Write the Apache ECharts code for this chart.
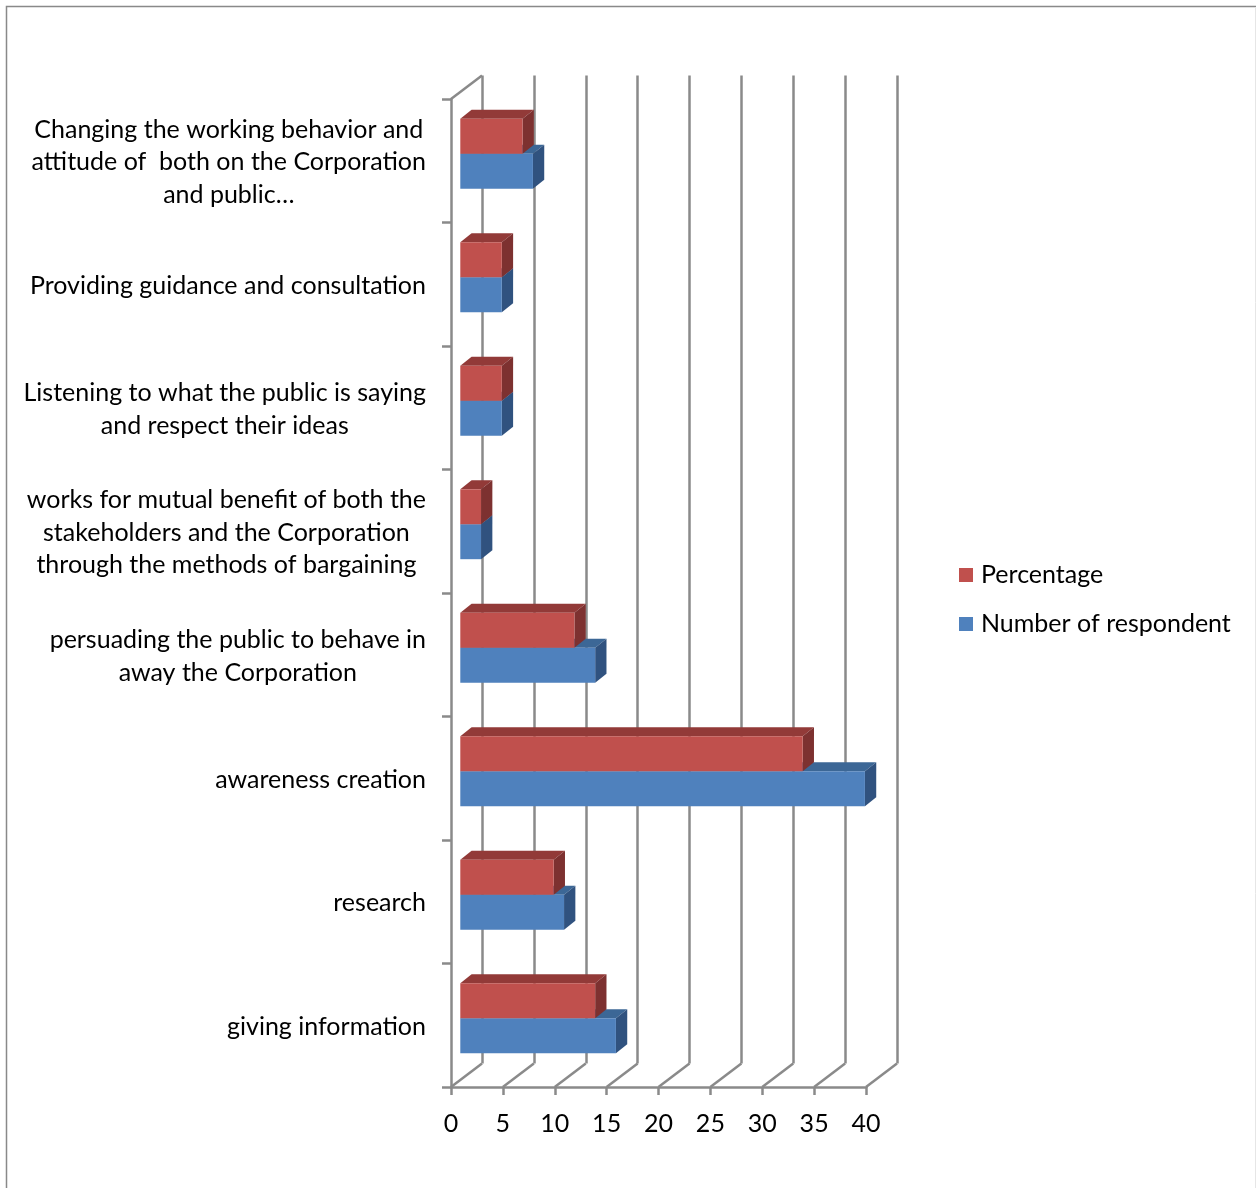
<!DOCTYPE html>
<html><head><meta charset="utf-8">
<script src="https://cdn.jsdelivr.net/npm/echarts@6.0.0/dist/echarts.min.js"></script>
<style>html,body{margin:0;padding:0;background:#fff}#c{width:1256px;height:1188px}</style>
</head><body><div id="c"></div>
<script>
// Categories bottom -> top (ECharts category axis order)
const categories = [
  'giving information',
  'research',
  'awareness creation',
  'persuading the public to behave in\naway the Corporation',
  'works for mutual benefit of both the\nstakeholders and the Corporation\nthrough the methods of bargaining',
  'Listening to what the public is saying\nand respect their ideas',
  'Providing guidance and consultation',
  'Changing the working behavior and\nattitude of  both on the Corporation\nand public\u2026'
];
const numberOfRespondent = [15, 10, 39, 13, 2, 4, 4, 7];
const percentage = [13, 9, 33, 11, 2, 4, 4, 6];
const xTicks = [0, 5, 10, 15, 20, 25, 30, 35, 40];
const seriesNames = ['Percentage', 'Number of respondent'];

const FONT = 'Lato';
const FS = 25;
const GRID_COLOR = '#8a8a8a';
const GW = 2.5;
const BOX = [31, -23.5];      // depth of the 3D box
const OFF = [9.3, -7];        // bar front plane offset
const DEPTH = [11.3, -9];     // bar depth
const RED = {front: '#C0504D', top: '#923a38', side: '#7d3130'};
const BLUE = {front: '#4F81BD', top: '#3c6796', side: '#30527f'};

function barRenderer(upper, col) {
  return function (params, api) {
    const v = api.value(0), c = api.value(1);
    const o = api.coord([0, c]);
    const e = api.coord([v, c]);
    const band = api.size([0, 1])[1];
    const h = band * 0.283;
    const x0 = o[0] + OFF[0], x1 = e[0] + OFF[0];
    const yc = o[1] + OFF[1];
    const y0 = upper ? yc - h : yc;
    const y1 = y0 + h;
    const dx = DEPTH[0], dy = DEPTH[1];
    return {
      type: 'group',
      children: [
        {type: 'polygon', shape: {points: [[x0, y0], [x0 + dx, y0 + dy], [x1 + dx, y0 + dy], [x1, y0]]}, style: {fill: col.top}},
        {type: 'polygon', shape: {points: [[x1, y0], [x1 + dx, y0 + dy], [x1 + dx, y1 + dy], [x1, y1]]}, style: {fill: col.side}},
        {type: 'rect', shape: {x: x0, y: y0, width: x1 - x0, height: h}, style: {fill: col.front}}
      ]
    };
  };
}

const chart = echarts.init(document.getElementById('c'), null, {renderer: 'canvas'});
const option = {
  animation: false,
  backgroundColor: '#fff',
  textStyle: {fontFamily: FONT},
  graphic: [
    {type: 'polyline', shape: {points: [[6.5, 1200], [6.5, 6.5], [1256, 6.5]]}, style: {stroke: '#898989', lineWidth: 1.5, fill: null}, silent: true},
    {type: 'line', shape: {x1: 1255.5, y1: 7, x2: 1255.5, y2: 1200}, style: {stroke: '#e6e6e6', lineWidth: 1}, silent: true}
  ],
  legend: {
    orient: 'vertical',
    left: 959, top: 561,
    itemWidth: 14, itemHeight: 14, itemGap: 21,
    icon: 'rect',
    padding: 0,
    data: seriesNames,
    textStyle: {fontFamily: FONT, fontSize: FS, lineHeight: 28, color: '#000', padding: [0, 0, 0, 3]}
  },
  grid: [
    {left: 451, top: 99, width: 415, height: 988},
    {left: 482, top: 75.5, width: 415, height: 988}
  ],
  xAxis: [
    {
      gridIndex: 0, type: 'value', min: 0, max: 40, interval: 5,
      axisLine: {show: true, lineStyle: {color: GRID_COLOR, width: GW}},
      axisTick: {show: true, length: 8, lineStyle: {color: GRID_COLOR, width: GW}},
      splitLine: {show: false},
      axisLabel: {fontFamily: FONT, fontSize: FS, color: '#000', margin: 24,
        formatter: v => xTicks.indexOf(v) >= 0 ? String(v) : ''}
    },
    {
      gridIndex: 1, type: 'value', min: 0, max: 40, interval: 5,
      axisLine: {show: false}, axisTick: {show: false}, axisLabel: {show: false},
      splitLine: {show: true, showMinLine: true, showMaxLine: true, lineStyle: {color: GRID_COLOR, width: GW}}
    }
  ],
  yAxis: [
    {
      gridIndex: 0, type: 'category', data: categories, boundaryGap: true,
      axisLine: {show: true, lineStyle: {color: GRID_COLOR, width: GW}},
      axisTick: {show: true, length: 9, lineStyle: {color: GRID_COLOR, width: GW}},
      axisLabel: {
        margin: 25, interval: 0,
        formatter: v => v.split('\n').map(l => '{c|' + l + '}').join('\n'),
        rich: {c: {align: 'center', fontFamily: FONT, fontSize: FS, lineHeight: 32.5, color: '#000', padding: [3, 0, 0, 0]}}
      }
    },
    {
      gridIndex: 1, type: 'category', data: categories, show: false
    }
  ],
  series: [
    {
      name: 'floor', type: 'custom', xAxisIndex: 0, yAxisIndex: 0, silent: true, clip: false,
      data: xTicks.map(v => [v, 0]),
      renderItem: function (params, api) {
        const cs = params.coordSys;
        const x = api.coord([api.value(0), 0])[0];
        const yb = cs.y + cs.height;
        const st = {stroke: GRID_COLOR, lineWidth: GW};
        const ch = [{type: 'line', shape: {x1: x, y1: yb, x2: x + BOX[0], y2: yb + BOX[1]}, style: st}];
        if (params.dataIndex === 0) {
          ch.push({type: 'line', shape: {x1: cs.x, y1: cs.y, x2: cs.x + BOX[0], y2: cs.y + BOX[1]}, style: st});
        }
        return {type: 'group', children: ch};
      }
    },
    {
      name: 'Number of respondent', type: 'custom', xAxisIndex: 0, yAxisIndex: 0, clip: false,
      itemStyle: {color: BLUE.front},
      data: numberOfRespondent.map((v, i) => [v, i]),
      renderItem: barRenderer(false, BLUE)
    },
    {
      name: 'Percentage', type: 'custom', xAxisIndex: 0, yAxisIndex: 0, clip: false,
      itemStyle: {color: RED.front},
      data: percentage.map((v, i) => [v, i]),
      renderItem: barRenderer(true, RED)
    }
  ]
};
chart.setOption(option);
</script>
</body></html>
